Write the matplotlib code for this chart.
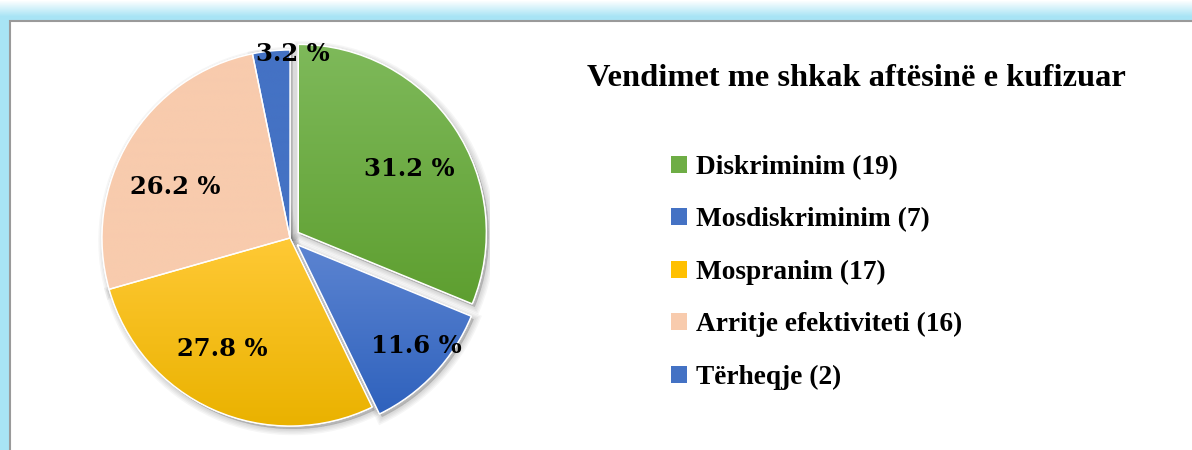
import numpy as np
import matplotlib
matplotlib.use("Agg")
import matplotlib.pyplot as plt
from matplotlib.patches import Wedge, Rectangle
from matplotlib.colors import to_rgb

# data
categories = ["Diskriminim", "Mosdiskriminim", "Mospranim", "Arritje efektiviteti", "Tërheqje"]
counts = [19, 7, 17, 16, 2]
shares = [31.2, 11.6, 27.8, 26.2, 3.2]
share_labels = ["31.2 %", "11.6 %", "27.8 %", "26.2 %", "3.2 %"]
title = "Vendimet me shkak aftësinë e kufizuar"

# styling
top_colors = ["#7EB95A", "#5C84D1", "#FFC935", "#F8CBAD", "#4472C4"]
bottom_colors = ["#5E9F30", "#2F62BD", "#EAB200", "#F8CBAD", "#4472C4"]
legend_colors = ["#6EAD45", "#4472C4", "#FFC000", "#F8CBAD", "#4472C4"]
explode = [10, 10, 0, 0, 0]  # pixels
label_r = [0.68, 0.83, 0.69, 0.67, 0.98]
label_shift = [-4, 2.7, -7.4, 7.5, -6.6]

W, H = 1192, 450
fig = plt.figure(figsize=(W / 100, H / 100), dpi=100)

# background frame: light blue border fading to white at the top
bg = fig.add_axes([0, 0, 1, 1])
bg.set_xlim(0, W)
bg.set_ylim(H, 0)
bg.axis("off")
blue = np.array(to_rgb("#A8E4F5"))
img = np.ones((H, W, 3)) * blue
fade = np.clip(np.arange(H) / 16.0, 0, 1)[:, None, None]
img = fade * img + (1 - fade) * np.ones(3)
bg.imshow(img, extent=(0, W, H, 0), aspect="auto", zorder=0)
bg.add_patch(Rectangle((10, 21), W, H, facecolor="white", edgecolor="#9A9A9A",
                       linewidth=1.5, zorder=1))

# pie axes, square in pixels, centred on the pie
cx, cy, half = 290, 238, 200
ax = fig.add_axes([(cx - half) / W, (H - cy - half) / H, 2 * half / W, 2 * half / H])
R = 188
wedges, _ = ax.pie(shares, explode=explode, radius=R, startangle=90, counterclock=False,
                   colors=legend_colors,
                   wedgeprops=dict(edgecolor="white", linewidth=1.0, zorder=2))
ax.set_aspect("auto")
ax.axis("off")

for i, w in enumerate(wedges):
    c = np.array(w.center)
    # soft shadow
    for k in range(5):
        ax.add_patch(Wedge(c + np.array([2.5, -3]), w.r, w.theta1, w.theta2,
                           facecolor="black", edgecolor="black", linewidth=1 + 2 * k,
                           alpha=0.035, zorder=1))
    # vertical gradient fill clipped to the wedge
    verts = ax.transData.inverted().transform(w.get_verts())
    ymin, ymax = verts[:, 1].min(), verts[:, 1].max()
    xmin, xmax = verts[:, 0].min(), verts[:, 0].max()
    t = np.linspace(0, 1, 64)[:, None]
    top, bot = np.array(to_rgb(top_colors[i])), np.array(to_rgb(bottom_colors[i]))
    grad = (1 - t) * top + t * bot
    grad = np.repeat(grad[:, None, :], 2, axis=1)
    im = ax.imshow(grad, extent=(xmin, xmax, ymin, ymax), origin="upper",
                   aspect="auto", zorder=2.5, interpolation="bilinear")
    im.set_clip_path(w)
    ax.add_patch(Wedge(w.center, w.r, w.theta1, w.theta2, facecolor="none",
                       edgecolor="white", linewidth=1.0, zorder=3))

    ang = np.deg2rad((w.theta1 + w.theta2) / 2 + label_shift[i])
    tx = c[0] + label_r[i] * R * np.cos(ang)
    ty = c[1] + label_r[i] * R * np.sin(ang)
    ax.text(tx, ty, share_labels[i], ha="center", va="center", fontsize=17.5,
            fontweight="bold", family="DejaVu Serif", color="black", zorder=5)

ax.set_xlim(-half, half)
ax.set_ylim(-half, half)

fig.text(856 / W, 1 - 78 / H, title, ha="center", va="center", fontsize=23.4,
         fontweight="bold", family="Liberation Serif", color="black")

handles = [Rectangle((0, 0), 1, 1, facecolor=col, edgecolor="none") for col in legend_colors]
labels = [f"{n} ({c})" for n, c in zip(categories, counts)]
fig.legend(handles, labels, loc="upper left", bbox_to_anchor=(671 / W, 1 - 155 / H),
           frameon=False, prop=dict(family="Liberation Serif", weight="bold", size=19.7),
           handlelength=0.6, handleheight=0.6, handletextpad=0.3, labelspacing=1.0,
           borderpad=0, borderaxespad=0)

fig.savefig("out.png", dpi=100)
